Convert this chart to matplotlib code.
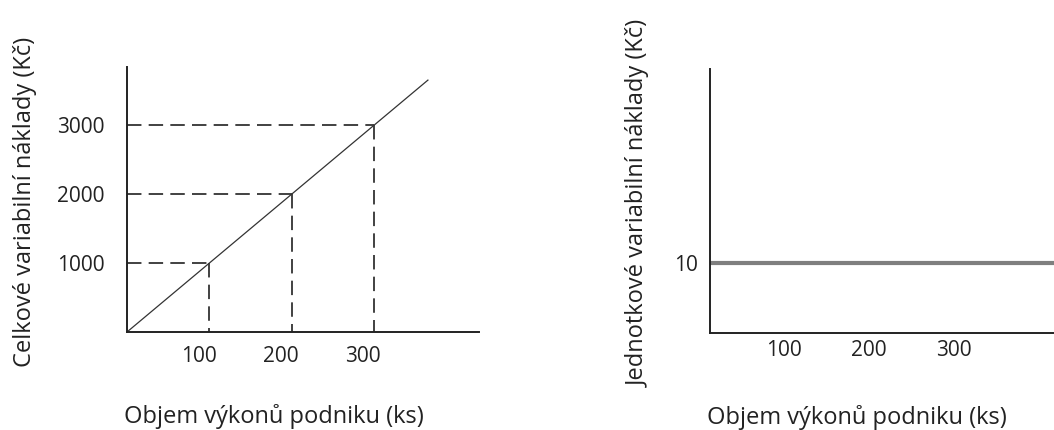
#!/usr/bin/env python
# -*- coding: utf-8 -*-

"""
Celkove a jednotkove variabilni naklady v zavislosti na objemu vykonu
"""

import matplotlib
matplotlib.use('Agg')
import matplotlib.pyplot as plt
from matplotlib.transforms import ScaledTranslation


#==============================================================================
# data

volume = [100, 200, 300] # ks
total_cost = [1000, 2000, 3000] # Kc

cost_line_x = [0, 365]
cost_line_y = [0, 3650]

unit_line_x = [0, 405]
unit_line_y = [10, 10]

xticks = [100, 200, 300]
yticks_left = [1000, 2000, 3000]
yticks_right = [10]

xlabel = 'Objem výkonů podniku (ks)'
ylabel_left = 'Celkové variabilní náklady (Kč)'
ylabel_right = 'Jednotkové variabilní náklady (Kč)'


#==============================================================================

plt.rcParams['font.family'] = ['Open Sans', 'DejaVu Sans']
plt.rcParams['font.size'] = 15
plt.rcParams['axes.labelsize'] = 17
plt.rcParams['text.color'] = '#222222'
plt.rcParams['axes.labelcolor'] = '#222222'
plt.rcParams['xtick.color'] = '#222222'
plt.rcParams['ytick.color'] = '#222222'

fig = plt.figure(figsize=(10.54, 4.30), dpi=100)
fig.patch.set_facecolor('white')

ax1 = fig.add_axes([0.1205, 0.2279, 0.334, 0.6163])
ax2 = fig.add_axes([0.6736, 0.2256, 0.3264, 0.6139])

dash = (0, (8, 4))

# left panel: total variable costs
ax1.plot(cost_line_x, cost_line_y, color='#333333', lw=0.9)
for x, y in zip(volume, total_cost):
	ax1.plot([0, x], [y, y], color='#333333', lw=1.3, ls=dash)
	ax1.plot([x, x], [y, 0], color='#333333', lw=1.3, ls=dash)

ax1.set_xlim(0, 427)
ax1.set_ylim(0, 3840)
ax1.set_yticks(yticks_left)
ax1.set_xticks(xticks)
ax1.tick_params(axis='x', length=0, pad=10)
ax1.tick_params(axis='y', length=0, pad=16)

# right panel: unit variable costs
ax2.plot(unit_line_x, unit_line_y, color='#7f7f7f', lw=3.0)
ax2.set_xlim(0, 405)
ax2.set_ylim(0, 37.7)
ax2.set_yticks(yticks_right)
ax2.set_xticks(xticks)
ax2.tick_params(axis='x', length=0, pad=5)
ax2.tick_params(axis='y', length=0, pad=9)

for ax, ylab, ypos in [(ax1, ylabel_left, -0.29), (ax2, ylabel_right, -0.206)]:
	for side in ['top', 'right']:
		ax.spines[side].set_visible(False)
	for side in ['left', 'bottom']:
		ax.spines[side].set_linewidth(1.4)
		ax.spines[side].set_color('#222222')
	ax.set_ylabel(ylab, va='center', ha='center')
	ax.yaxis.set_label_coords(ypos, 0.49)
	ax.set_xlabel(xlabel, va='center', ha='center')
	# tick labels sit a little left of their marks in the original
	offset = ScaledTranslation(-0.11, 0, fig.dpi_scale_trans)
	for lab in ax.get_xticklabels():
		lab.set_transform(lab.get_transform() + offset)

ax1.xaxis.set_label_coords(0.418, -0.32)
ax2.xaxis.set_label_coords(0.427, -0.322)

fig.savefig('out.png', dpi=100, facecolor='white')
